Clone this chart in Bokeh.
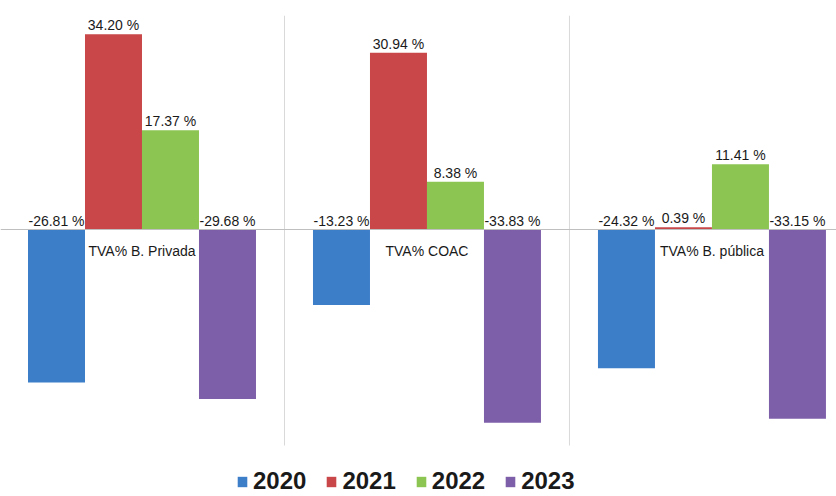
from bokeh.plotting import figure
from bokeh.models import ColumnDataSource, Span, Legend, LegendItem
from bokeh.core.properties import value
from bokeh.embed import file_html
from bokeh.resources import INLINE

categories = ["TVA% B. Privada", "TVA% COAC", "TVA% B. pública"]
years = ["2020", "2021", "2022", "2023"]
v2020 = [-26.81, -13.23, -24.32]
v2021 = [34.20, 30.94, 0.39]
v2022 = [17.37, 8.38, 11.41]
v2023 = [-29.68, -33.83, -33.15]
colors = ["#3D7EC9", "#C94749", "#8DC553", "#7D5FA9"]
offsets = [-0.3, -0.1, 0.1, 0.3]
series = [v2020, v2021, v2022, v2023]

FONT = "Liberation Sans"
Y_TOP, Y_SEP_BOTTOM, Y_BOTTOM = 37.48, -37.83, -46.76

p = figure(width=836, height=496, output_backend="svg", toolbar_location=None,
           x_range=(-0.4965, 2.437), y_range=(Y_BOTTOM, Y_TOP),
           min_border_left=0, min_border_right=0, min_border_top=15, min_border_bottom=0)
p.xaxis.visible = False
p.yaxis.visible = False
p.xgrid.visible = False
p.ygrid.visible = False
p.outline_line_color = None
p.background_fill_color = "white"
p.border_fill_color = "white"

# separators between categories
sep_x = [i + 0.5 for i in range(len(categories) - 1)]
p.segment(x0=sep_x, x1=sep_x, y0=[Y_SEP_BOTTOM] * len(sep_x), y1=[Y_TOP] * len(sep_x),
          line_color="#D9D9D9", line_width=1)
p.add_layout(Span(location=0, dimension="width", line_color="#BFBFBF", line_width=1))

items = []
for k, (yr, vals, col, off) in enumerate(zip(years, series, colors, offsets)):
    xs = [i + off for i in range(len(categories))]
    src = ColumnDataSource(dict(x=xs, top=vals,
                                ly=[max(v, 0) for v in vals],
                                lab=[f"{v:.2f} %" for v in vals]))
    r = p.vbar(x="x", top="top", bottom=0, width=0.2, fill_color=col, line_color=None, source=src)
    items.append(LegendItem(label=yr, renderers=[r]))
    p.text(x="x", y="ly", text="lab", source=src, text_align="center", text_baseline="bottom",
           y_offset=-1, text_font=value(FONT), text_font_size="14px", text_color="#1a1a1a")

csrc = ColumnDataSource(dict(x=list(range(len(categories))), y=[0] * len(categories), t=categories))
p.text(x="x", y="y", text="t", source=csrc, text_align="center", text_baseline="middle",
       y_offset=21, text_font=value(FONT), text_font_size="14px", text_color="#1a1a1a")

legend = Legend(items=items, orientation="horizontal", location=(236, 1),
                label_text_font=FONT, label_text_font_size="24px", label_text_font_style="bold",
                label_text_color="#1a1a1a", glyph_width=12, glyph_height=13, label_standoff=5,
                label_height=24, spacing=19, padding=0, margin=0, border_line_color=None,
                background_fill_alpha=0)
p.add_layout(legend)

open("out.html", "w").write(file_html(p, INLINE))
